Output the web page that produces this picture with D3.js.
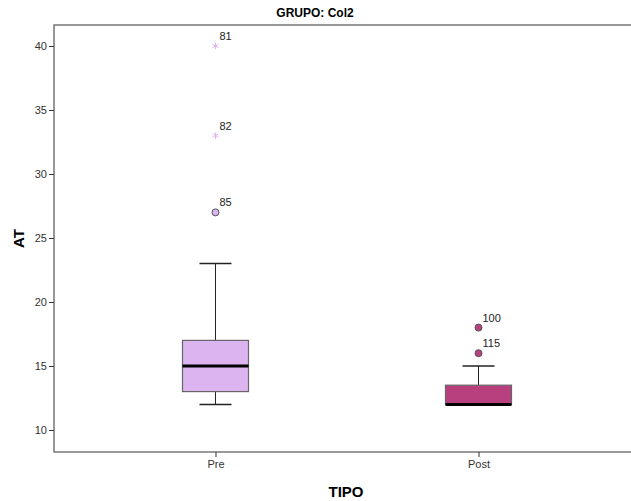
<!DOCTYPE html>
<html>
<head>
<meta charset="utf-8">
<script src="https://cdn.jsdelivr.net/npm/d3@7"></script>
<style>
  body { margin: 0; background: #fff; }
  text { font-family: Arial, "Liberation Sans", sans-serif; }
</style>
</head>
<body>
<svg id="chart" width="631" height="501"></svg>
<script>
// datos
var categories = ["Pre", "Post"];
var q1 = [13, 12];
var medians = [15, 12];
var q3 = [17, 13.5];
var whiskerLow = [12, 12];
var whiskerHigh = [23, 15];
var boxColors = ["#dcb4f0", "#b8407e"];
// atipicos: circulo = "o", estrella = extremo
var outCat = ["Pre", "Pre", "Pre", "Post", "Post"];
var outValue = [40, 33, 27, 18, 16];
var outLabel = ["81", "82", "85", "100", "115"];
var outKind = ["star", "star", "circle", "circle", "circle"];
var yTicks = [10, 15, 20, 25, 30, 35, 40];

var margin = {top: 25, right: -9, bottom: 49, left: 54},
    width = 631 - margin.left - margin.right,
    height = 501 - margin.top - margin.bottom;

var svg = d3.select("#chart")
  .append("g")
  .attr("transform", "translate(" + margin.left + "," + margin.top + ")");

var x = d3.scalePoint().domain(categories).range([0, width]).padding(0.614);
var y = d3.scaleLinear().domain([8.28, 41.64]).range([height, 0]);

var boxW = 66, capW = 32;

// marco
svg.append("rect")
  .attr("width", width).attr("height", height)
  .attr("fill", "none").attr("stroke", "#555").attr("stroke-width", 1.2);

// ejes
var yAxis = svg.append("g").call(d3.axisLeft(y).tickValues(yTicks).tickSize(5).tickPadding(2));
var xAxis = svg.append("g").attr("transform", "translate(0," + height + ")")
  .call(d3.axisBottom(x).tickSize(5).tickPadding(3));
[yAxis, xAxis].forEach(function(a) {
  a.select(".domain").remove();
  a.selectAll("line").attr("stroke", "#333");
  a.selectAll("text").attr("fill", "#333").style("font-size", "11px");
});

// cajas
categories.forEach(function(c, i) {
  var cx = x(c);
  var g = svg.append("g");
  g.append("line").attr("x1", cx).attr("x2", cx)
    .attr("y1", y(whiskerLow[i])).attr("y2", y(q1[i])).attr("stroke", "#222");
  g.append("line").attr("x1", cx).attr("x2", cx)
    .attr("y1", y(q3[i])).attr("y2", y(whiskerHigh[i])).attr("stroke", "#222");
  [whiskerLow[i], whiskerHigh[i]].forEach(function(v) {
    g.append("line").attr("x1", cx - capW / 2).attr("x2", cx + capW / 2)
      .attr("y1", y(v)).attr("y2", y(v)).attr("stroke", "#222").attr("stroke-width", 1.5);
  });
  g.append("rect")
    .attr("x", cx - boxW / 2).attr("width", boxW)
    .attr("y", y(q3[i])).attr("height", y(q1[i]) - y(q3[i]))
    .attr("fill", boxColors[i]).attr("stroke", "#666").attr("stroke-width", 1.2);
  g.append("line").attr("x1", cx - boxW / 2).attr("x2", cx + boxW / 2)
    .attr("y1", y(medians[i])).attr("y2", y(medians[i]))
    .attr("stroke", "#000").attr("stroke-width", 3);
});

// atipicos
var star = d3.symbol().type(d3.symbolAsterisk).size(30);
outValue.forEach(function(v, i) {
  var ci = categories.indexOf(outCat[i]);
  var cx = x(outCat[i]), cy = y(v);
  if (outKind[i] === "star") {
    svg.append("path").attr("d", star())
      .attr("transform", "translate(" + cx + "," + cy + ")")
      .attr("fill", "none").attr("stroke", boxColors[ci]).attr("stroke-width", 1);
  } else {
    svg.append("circle").attr("cx", cx).attr("cy", cy).attr("r", 3.5)
      .attr("fill", boxColors[ci]).attr("stroke", "#555").attr("stroke-width", 1);
  }
  svg.append("text").attr("x", cx + 4).attr("y", cy - 6)
    .style("font-size", "11px").attr("fill", "#222").text(outLabel[i]);
});

// titulos
d3.select("#chart").append("text")
  .attr("x", 315).attr("y", 17).attr("text-anchor", "middle")
  .style("font-size", "12px").style("font-weight", "bold").text("GRUPO: Col2");
d3.select("#chart").append("text")
  .attr("transform", "translate(24," + (margin.top + height / 2) + ")rotate(-90)")
  .attr("text-anchor", "middle")
  .style("font-size", "15px").style("font-weight", "bold").text("AT");
d3.select("#chart").append("text")
  .attr("x", 346).attr("y", 497).attr("text-anchor", "middle")
  .style("font-size", "15px").style("font-weight", "bold").text("TIPO");
</script>
</body>
</html>
